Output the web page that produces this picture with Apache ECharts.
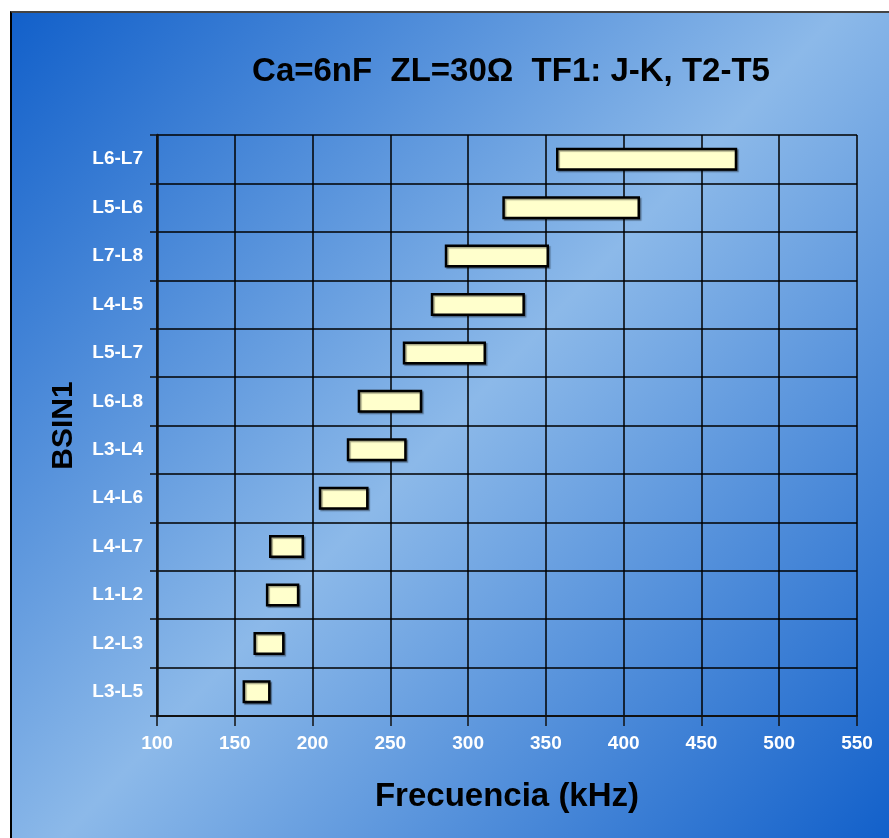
<!DOCTYPE html>
<html>
<head>
<meta charset="utf-8">
<script src="https://cdn.jsdelivr.net/npm/echarts@6/dist/echarts.min.js"></script>
<style>
html,body{margin:0;padding:0;background:#fff;width:889px;height:838px;overflow:hidden;}
#chart{position:absolute;left:10px;top:11px;width:877px;height:825px;border-left:2px solid #000;border-top:2px solid #444;}
</style>
</head>
<body>
<div id="chart"></div>
<script>
var categories = ['L3-L5','L2-L3','L1-L2','L4-L7','L4-L6','L3-L4','L6-L8','L5-L7','L4-L5','L7-L8','L5-L6','L6-L7'];
var startFreq = [155, 162, 170, 172, 204, 222, 229, 258, 276, 285, 322, 356.5];
var endFreq   = [173, 182, 191.5, 194.5, 236, 260.5, 270.5, 311.5, 336.5, 352, 410.5, 473];
var xTicks = [100, 150, 200, 250, 300, 350, 400, 450, 500, 550];

var span = endFreq.map(function(v, i){ return +(v - startFreq[i]).toFixed(2); });
var FONT = '"Liberation Sans", Arial, sans-serif';

var chart = echarts.init(document.getElementById('chart'), null, {renderer:'canvas'});
chart.setOption({
  animation:false,
  backgroundColor: new echarts.graphic.LinearGradient(0,0,1,1,[
    {offset:0,color:'#1260ca'},
    {offset:0.5,color:'#8cb9e9'},
    {offset:1,color:'#1260ca'}
  ]),
  title:{
    text:'Ca=6nF  ZL=30\u03A9  TF1: J-K, T2-T5',
    left:494, top:37, textAlign:'center',
    textStyle:{fontFamily:FONT,fontWeight:'bold',fontSize:33,color:'#000'}
  },
  grid:{left:145, top:122, right:32, bottom:122},
  xAxis:{
    type:'value', min:xTicks[0], max:xTicks[xTicks.length-1], interval:50,
    name:'Frecuencia (kHz)', nameLocation:'middle', nameGap:64,
    nameTextStyle:{fontFamily:FONT,fontWeight:'bold',fontSize:33,color:'#000'},
    axisLine:{show:true,lineStyle:{color:'#111',width:2}},
    axisTick:{show:true,length:10,lineStyle:{color:'#111',width:1.5}},
    axisLabel:{margin:18,fontFamily:FONT,fontWeight:'bold',fontSize:19,color:'#fff'},
    splitLine:{show:true,lineStyle:{color:'#000',width:1.5}}
  },
  yAxis:{
    type:'category', data:categories,
    name:'BSIN1', nameLocation:'middle', nameGap:78, nameRotate:90,
    nameTextStyle:{fontFamily:FONT,fontWeight:'bold',fontSize:30,color:'#000'},
    axisLine:{show:true,lineStyle:{color:'#111',width:2.5}},
    axisTick:{show:true,length:7,lineStyle:{color:'#111',width:1.5}},
    axisLabel:{margin:14,fontFamily:FONT,fontWeight:'bold',fontSize:19,color:'#fff'},
    splitLine:{show:true,lineStyle:{color:'#000',width:1.5}}
  },
  series:[
    {type:'bar', stack:'f', data:startFreq, barWidth:23, silent:true,
     itemStyle:{color:'rgba(0,0,0,0)'}},
    {type:'bar', stack:'f', data:span, barWidth:23,
     itemStyle:{color:'#ffffcc', borderColor:'#000', borderWidth:2.5,
       shadowColor:'rgba(0,0,0,0.35)', shadowOffsetX:1.5, shadowOffsetY:1.5, shadowBlur:1}}
  ]
});
</script>
</body>
</html>
